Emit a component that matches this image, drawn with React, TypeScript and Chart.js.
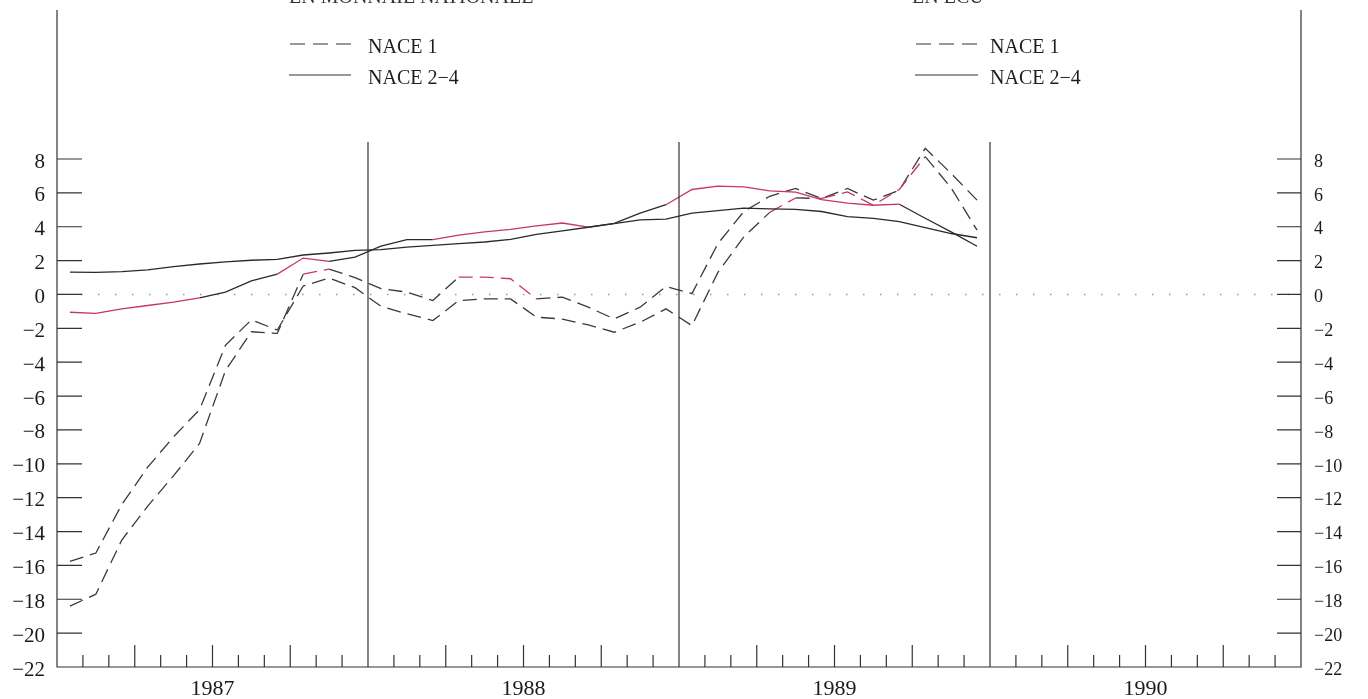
import React, { useEffect, useRef } from 'react';
import { Chart, registerables } from 'chart.js';

Chart.register(...registerables);

// ---- data ----
const years = ['1987', '1988', '1989', '1990'];
const months = [
  '1987-01', '1987-02', '1987-03', '1987-04', '1987-05', '1987-06', '1987-07', '1987-08', '1987-09', '1987-10', '1987-11', '1987-12',
  '1988-01', '1988-02', '1988-03', '1988-04', '1988-05', '1988-06', '1988-07', '1988-08', '1988-09', '1988-10', '1988-11', '1988-12',
  '1989-01', '1989-02', '1989-03', '1989-04', '1989-05', '1989-06', '1989-07', '1989-08', '1989-09', '1989-10', '1989-11', '1989-12',
];
const yTickValues = [-22, -20, -18, -16, -14, -12, -10, -8, -6, -4, -2, 0, 2, 4, 6, 8];

// NACE 2-4 (solid)
const nace24National = [1.32, 1.3, 1.35, 1.45, 1.65, 1.8, 1.92, 2.02, 2.07, 2.33, 2.45, 2.6, 2.65, 2.8, 2.9, 3.0, 3.1, 3.25, 3.55, 3.75, 3.97, 4.19, 4.4, 4.45, 4.8, 4.95, 5.1, 5.05, 5.02, 4.9, 4.6, 4.49, 4.3, 3.95, 3.6, 3.35];
const nace24Ecu = [-1.05, -1.12, -0.85, -0.65, -0.45, -0.2, 0.14, 0.8, 1.2, 2.15, 1.95, 2.2, 2.85, 3.24, 3.24, 3.5, 3.7, 3.85, 4.05, 4.22, 3.98, 4.2, 4.8, 5.3, 6.2, 6.4, 6.35, 6.12, 6.05, 5.6, 5.4, 5.27, 5.33, 4.5, 3.7, 2.85];
// NACE 1 (dashed)
const nace1National = [-15.76, -15.27, -12.4, -10.2, -8.4, -6.8, -3.0, -1.5, -2.1, 0.5, 0.97, 0.4, -0.7, -1.14, -1.54, -0.36, -0.26, -0.26, -1.34, -1.45, -1.8, -2.23, -1.64, -0.85, -1.84, 1.3, 3.4, 4.85, 5.7, 5.67, 6.06, 5.27, 6.2, 8.14, 6.3, 3.8];
const nace1Ecu = [-18.4, -17.7, -14.5, -12.5, -10.7, -8.8, -4.5, -2.2, -2.3, 1.2, 1.5, 1.0, 0.34, 0.14, -0.36, 1.03, 1.03, 0.93, -0.26, -0.16, -0.75, -1.44, -0.75, 0.47, 0.05, 3.0, 4.9, 5.8, 6.26, 5.67, 6.26, 5.57, 6.16, 8.63, 7.15, 5.57];

// segments highlighted in red on the scan
const redSegsSolid = [0, 1, 2, 3, 4, 8, 9, 14, 15, 16, 17, 18, 19, 23, 24, 25, 26, 27, 28, 29, 30, 31];
const redSegsDashedA = [27, 29, 30, 31, 32];
const redSegsDashedB = [9, 15, 16, 17];

const legendLabels = ['NACE 1', 'NACE 2\u22124'];
const panelTitles = ['EN MONNAIE NATIONALE', 'EN ECU'];

const RED = '#c8375f';
const INK = '#2a2a2a';
const DASH_INK = '#3a3a3a';
const FONT = '"Liberation Serif", "DejaVu Serif", serif';

const toPoints = (vals: number[]) => vals.map((v, i) => ({ x: months.indexOf(months[i]) + 0.5, y: v }));
const segColor = (reds: number[], base: string) => (ctx: any) => (reds.includes(ctx.p0DataIndex) ? RED : base);
const fmt = (v: number) => (v < 0 ? '\u2212' + Math.abs(v) : String(v));
const zeroPad = (s: any) => {
  s.paddingTop = 0;
  s.paddingBottom = 0;
  s.paddingLeft = 0;
  s.paddingRight = 0;
};

const framePlugin = {
  id: 'frame',
  beforeDatasetsDraw(chart: any) {
    const { ctx, chartArea: a, scales } = chart;
    const y0 = scales.y.getPixelForValue(0);
    ctx.save();
    ctx.strokeStyle = '#9a9a9a';
    ctx.lineWidth = 1.5;
    ctx.setLineDash([1.5, 15.5]);
    ctx.beginPath();
    ctx.moveTo(a.left + 24, y0);
    ctx.lineTo(a.right - 12, y0);
    ctx.stroke();
    ctx.restore();
  },
  afterDraw(chart: any) {
    const { ctx, chartArea: a, scales } = chart;
    const xs = scales.x;
    const ys = scales.y;
    ctx.save();
    ctx.strokeStyle = '#333';
    ctx.lineWidth = 1.2;
    ctx.setLineDash([]);
    ctx.beginPath();
    ctx.moveTo(a.left, a.top);
    ctx.lineTo(a.left, a.bottom);
    ctx.lineTo(a.right, a.bottom);
    ctx.lineTo(a.right, a.top);
    const divTop = ys.getPixelForValue(9);
    [12, 24, 36].forEach((m) => {
      const px = xs.getPixelForValue(m);
      ctx.moveTo(px, divTop);
      ctx.lineTo(px, a.bottom);
    });
    yTickValues.forEach((v) => {
      const py = ys.getPixelForValue(v);
      if (v !== -22) {
        ctx.moveTo(a.left, py);
        ctx.lineTo(a.left + 25, py);
        ctx.moveTo(a.right - 24, py);
        ctx.lineTo(a.right, py);
      }
    });
    for (let m = 1; m < 48; m++) {
      if (m % 12 === 0) continue;
      const px = xs.getPixelForValue(m);
      const len = m % 3 === 0 ? 22 : 12;
      ctx.moveTo(px, a.bottom);
      ctx.lineTo(px, a.bottom - len);
    }
    ctx.stroke();

    ctx.fillStyle = '#1e1e1e';
    ctx.font = '20px ' + FONT;
    ctx.textBaseline = 'middle';
    ctx.textAlign = 'left';
    const legends = [
      { x0: 290, x1: 351, tx: 368 },
      { x0: 916, x1: 978, tx: 990 },
    ];
    legends.forEach((l) => {
      ctx.beginPath();
      ctx.strokeStyle = '#333';
      ctx.setLineDash([15, 8]);
      ctx.moveTo(l.x0, 44);
      ctx.lineTo(l.x1, 44);
      ctx.stroke();
      ctx.beginPath();
      ctx.setLineDash([]);
      ctx.moveTo(l.x0 - 1, 75);
      ctx.lineTo(l.x1, 75);
      ctx.stroke();
      ctx.fillText(legendLabels[0], l.tx, 48);
      ctx.fillText(legendLabels[1], l.tx, 79);
    });
    ctx.textBaseline = 'alphabetic';
    ctx.fillStyle = '#333';
    ctx.fillText(panelTitles[0], 289, 3);
    ctx.fillText(panelTitles[1], 912, 3);
    ctx.restore();
  },
};

export default function App() {
  const ref = useRef<HTMLCanvasElement | null>(null);
  useEffect(() => {
    document.body.style.margin = '0';
    const canvas = ref.current;
    if (!canvas) return;
    const chart = new Chart(canvas, {
      type: 'line',
      data: {
        datasets: [
          {
            label: 'NACE 2-4 (monnaie nationale)',
            data: toPoints(nace24National),
            borderColor: INK,
            borderWidth: 1.3,
            pointRadius: 0,
            tension: 0,
          },
          {
            label: 'NACE 2-4 (ECU)',
            data: toPoints(nace24Ecu),
            borderColor: INK,
            borderWidth: 1.3,
            pointRadius: 0,
            tension: 0,
            segment: { borderColor: segColor(redSegsSolid, INK) },
          },
          {
            label: 'NACE 1 (monnaie nationale)',
            data: toPoints(nace1National),
            borderColor: DASH_INK,
            borderWidth: 1.3,
            borderDash: [14, 7],
            pointRadius: 0,
            tension: 0,
            segment: { borderColor: segColor(redSegsDashedA, DASH_INK) },
          },
          {
            label: 'NACE 1 (ECU)',
            data: toPoints(nace1Ecu),
            borderColor: DASH_INK,
            borderWidth: 1.3,
            borderDash: [14, 7],
            pointRadius: 0,
            tension: 0,
            segment: { borderColor: segColor(redSegsDashedB, DASH_INK) },
          },
        ],
      },
      options: {
        responsive: false,
        animation: false,
        layout: { padding: { top: 10, left: 0, right: 0, bottom: 0 } },
        plugins: { legend: { display: false }, tooltip: { enabled: false } },
        scales: {
          x: {
            type: 'linear',
            min: 0,
            max: 48,
            afterBuildTicks: (s: any) => {
              s.ticks = years.map((_, i) => ({ value: i * 12 + 6 }));
            },
            afterFit: (s: any) => {
              s.height = 32;
              zeroPad(s);
            },
            grid: { display: false, drawTicks: false },
            border: { display: false },
            ticks: {
              autoSkip: false,
              maxRotation: 0,
              padding: 9,
              color: '#1a1a1a',
              font: { family: FONT, size: 22 },
              callback: (v: any) => years[Math.round((Number(v) - 6) / 12)] ?? '',
            },
          },
          y: {
            type: 'linear',
            position: 'left',
            min: -22,
            max: 16.8,
            afterBuildTicks: (s: any) => {
              s.ticks = yTickValues.map((v) => ({ value: v }));
            },
            afterFit: (s: any) => {
              s.width = 57;
              zeroPad(s);
            },
            grid: { display: false, drawTicks: false },
            border: { display: false },
            ticks: {
              padding: 12,
              labelOffset: 3,
              color: '#1a1a1a',
              font: { family: FONT, size: 21 },
              callback: (v: any) => fmt(Number(v)),
            },
          },
          y2: {
            type: 'linear',
            position: 'right',
            min: -22,
            max: 16.8,
            afterBuildTicks: (s: any) => {
              s.ticks = yTickValues.map((v) => ({ value: v }));
            },
            afterFit: (s: any) => {
              s.width = 67;
              zeroPad(s);
            },
            grid: { display: false, drawTicks: false },
            border: { display: false },
            ticks: {
              padding: 13,
              labelOffset: 3,
              color: '#1a1a1a',
              font: { family: FONT, size: 18 },
              callback: (v: any) => fmt(Number(v)),
            },
          },
        },
      },
      plugins: [framePlugin],
    });
    return () => chart.destroy();
  }, []);

  return (
    <div style={{ position: 'fixed', left: 0, top: 0, width: 1368, height: 699, background: '#fff' }}>
      <canvas ref={ref} width={1368} height={699} style={{ display: 'block', width: 1368, height: 699 }} />
    </div>
  );
}
